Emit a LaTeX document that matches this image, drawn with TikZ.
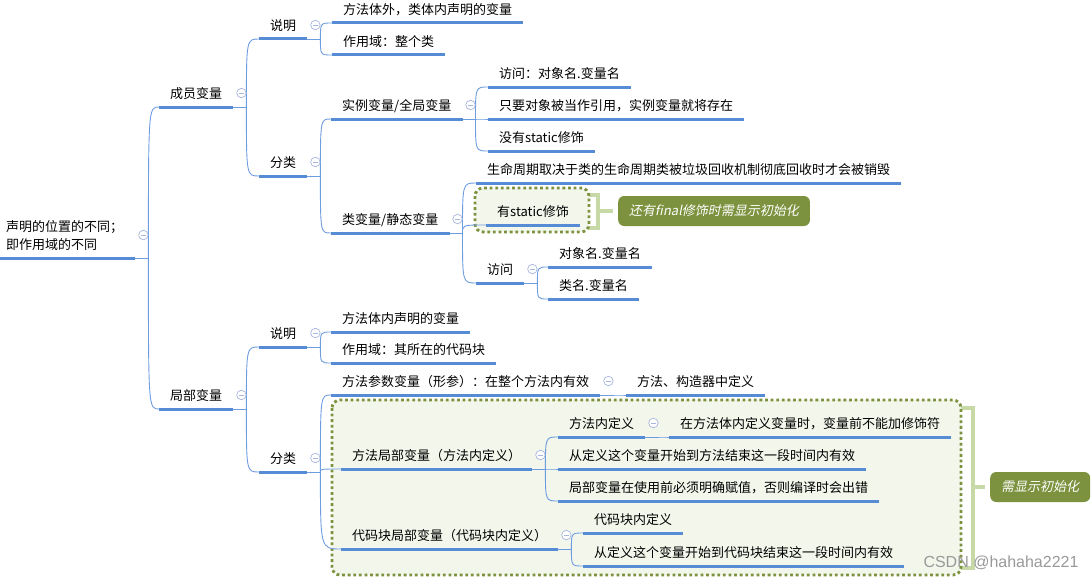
\documentclass[tikz,border=0pt]{standalone}
\usepackage{fontspec}
\setmainfont{Noto Sans CJK SC}
\newfontfamily\notefont[FakeSlant=0.2]{Noto Sans CJK SC}
\newfontfamily\markfont{Liberation Sans}
\definecolor{lineblue}{RGB}{86,140,214}
\definecolor{connblue}{RGB}{110,156,224}
\definecolor{foldgray}{RGB}{168,182,222}
\definecolor{olive}{RGB}{124,146,62}
\definecolor{boxfill}{RGB}{242,246,235}
\definecolor{bracegreen}{RGB}{198,217,166}
\tikzset{
  uline/.style={draw=lineblue, line width=3pt},
  conn/.style={draw=connblue, line width=0.9pt},
  topic/.style={anchor=south west, inner xsep=11pt, inner ysep=0pt,
    text depth=8pt, text height=11pt, font=\fontsize{13}{18}\selectfont,
    append after command={(\tikzlastnode.south west) edge[uline] (\tikzlastnode.south east)}},
  fold/.style={circle, draw=foldgray, line width=0.7pt, minimum size=9.5pt, inner sep=0pt, fill=white,
    path picture={\draw[foldgray, line width=0.9pt]
      ([xshift=-2.4pt]path picture bounding box.center) -- ([xshift=2.4pt]path picture bounding box.center);}},
  dotbox/.style={draw=olive, fill=boxfill, line width=2.8pt, dash pattern=on 2.8pt off 2.8pt, rounded corners=8pt},
  brace/.style={draw=bracegreen, line width=4pt},
  note/.style={anchor=west, fill=olive, rounded corners=6pt, text=white, inner xsep=11pt,
    minimum height=30pt, font=\notefont\fontsize{13}{16}\selectfont}
}
% parent, children: connectors and fold mark
\newcommand{\branch}[3][14pt]{%
  \draw[conn] (#2.south east) -- ([xshift=13pt]#2.south east) coordinate (#2-b);
  \foreach \c in {#3} \draw[conn] (#2-b) .. controls (#2-b |- \c.south west) .. (\c.south west);
  \node[fold] (#2-f) at ([shift={(8pt,#1)}]#2.south east) {};
}
\begin{document}
\begin{tikzpicture}[x=1pt,y=-1pt]
\useasboundingbox (0,0) rectangle (1092,578);

% green groups
\draw[brace] (588,195) -| (598,228) -- (588,228);
\draw[brace] (961,408) -| (973,568) -- (961,568);
\draw[dotbox] (475,188) rectangle (589,232);
\draw[dotbox] (332,400) rectangle (961,575);
\node[note] (n1) at (618,211) {还有final修饰时需显示初始化};
\node[note] (n2) at (990,487) {需显示初始化};
\draw[brace] (598,211) -- ([xshift=-5pt]n1.west);
\draw[brace] (973,487) -- ([xshift=-5pt]n2.west);

% topics
\node[topic, text width=123pt, inner xsep=6pt, text depth=26pt, align=left] (root) at (0,258) {声明的位置的不同；\\即作用域的不同};
\node[topic] (mv) at (159,107) {成员变量};
\node[topic] (lv) at (159,409) {局部变量};
\node[topic] (mvsm) at (259,39) {说明};
\node[topic] (mvfl) at (259,176) {分类};
\node[topic] (lvsm) at (259,347) {说明};
\node[topic] (lvfl) at (259,472) {分类};
\node[topic] (mvsm1) at (332,23) {方法体外，类体内声明的变量};
\node[topic] (mvsm2) at (332,55) {作用域：整个类};
\node[topic] (iv) at (331,119) {实例变量/全局变量};
\node[topic] (cv) at (331,233) {类变量/静态变量};
\node[topic] (iv1) at (488,87) {访问：对象名.变量名};
\node[topic] (iv2) at (488,119) {只要对象被当作引用，实例变量就将存在};
\node[topic] (iv3) at (488,151) {没有static修饰};
\node[topic] (cv1) at (476,183) {生命周期取决于类的生命周期类被垃圾回收机制彻底回收时才会被销毁};
\node[topic] (cv2) at (486,225) {有static修饰};
\node[topic] (cv3) at (476,283) {访问};
\node[topic] (cv31) at (548,267) {对象名.变量名};
\node[topic] (cv32) at (548,299) {类名.变量名};
\node[topic] (lvsm1) at (331,332) {方法体内声明的变量};
\node[topic] (lvsm2) at (331,363) {作用域：其所在的代码块};
\node[topic] (pm) at (331,395) {方法参数变量（形参）：在整个方法内有效};
\node[topic] (pm1) at (626,395) {方法、构造器中定义};
\node[topic] (ml) at (341,469) {方法局部变量（方法内定义）};
\node[topic] (ml1) at (558,437) {方法内定义};
\node[topic] (ml11) at (669,437) {在方法体内定义变量时，变量前不能加修饰符};
\node[topic] (ml2) at (558,469) {从定义这个变量开始到方法结束这一段时间内有效};
\node[topic] (ml3) at (558,501) {局部变量在使用前必须明确赋值，否则编译时会出错};
\node[topic] (bl) at (341,549) {代码块局部变量（代码块内定义）};
\node[topic] (bl1) at (583,533) {代码块内定义};
\node[topic] (bl2) at (583,566) {从定义这个变量开始到代码块结束这一段时间内有效};

% connectors
\branch[23pt]{root}{mv,lv}
\branch{mv}{mvsm,mvfl}
\branch{lv}{lvsm,lvfl}
\branch{mvsm}{mvsm1,mvsm2}
\branch{mvfl}{iv,cv}
\branch{iv}{iv1,iv2,iv3}
\branch{cv}{cv1,cv2,cv3}
\branch{cv3}{cv31,cv32}
\branch{lvsm}{lvsm1,lvsm2}
\branch{lvfl}{pm,ml,bl}
\branch{pm}{pm1}
\branch{ml}{ml1,ml2,ml3}
\branch{ml1}{ml11}
\branch{bl}{bl1,bl2}

\node[text=black!40, font=\markfont\fontsize{16}{16}\selectfont] (wm) at (1001,563) {CSDN @hahaha2221};
\end{tikzpicture}
\end{document}
